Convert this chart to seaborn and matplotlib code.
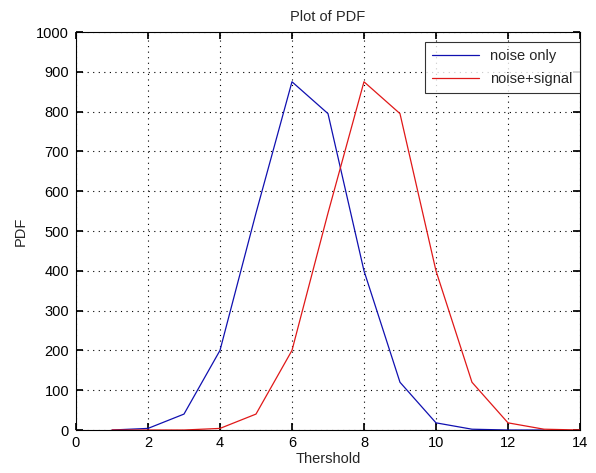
import matplotlib
matplotlib.use("Agg")
import matplotlib.pyplot as plt
import seaborn as sns
import pandas as pd

sns.set_theme(style="white")
plt.rcParams['font.family'] = ['Liberation Sans', 'DejaVu Sans']

# Data
x_noise = [1, 2, 3, 4, 5, 6, 7, 8, 9, 10, 11, 12, 13]
pdf_noise = [0, 4, 40, 200, 545, 875, 795, 400, 120, 18, 2, 0, 0]
x_signal = [1, 2, 3, 4, 5, 6, 7, 8, 9, 10, 11, 12, 13, 14]
pdf_signal = [0, 0, 0, 4, 40, 200, 545, 875, 795, 400, 120, 18, 2, 0]
x_ticks = [0, 2, 4, 6, 8, 10, 12, 14]
y_ticks = [0, 100, 200, 300, 400, 500, 600, 700, 800, 900, 1000]

df = pd.concat([
    pd.DataFrame({'Thershold': x_noise, 'PDF': pdf_noise, 'series': 'noise only'}),
    pd.DataFrame({'Thershold': x_signal, 'PDF': pdf_signal, 'series': 'noise+signal'}),
])

fig = plt.figure(figsize=(5.96, 4.73), dpi=100)
ax = fig.add_axes([0.1275, 0.0909, 0.8456, 0.8414])
sns.lineplot(data=df, x='Thershold', y='PDF', hue='series',
             palette={'noise only': '#1010b0', 'noise+signal': '#e01818'},
             linewidth=0.9, ax=ax)

ax.set_xlim(0, 14)
ax.set_ylim(0, 1000)
ax.set_xticks(x_ticks)
ax.set_yticks(y_ticks)
ax.grid(True, linestyle=(0, (1, 4)), color='black', linewidth=0.8)
ax.tick_params(direction='in', length=5, labelsize=10.5, colors='black',
               top=True, right=True, bottom=True, left=True, pad=5)
ax.tick_params(axis='x', pad=4)
for s in ax.spines.values():
    s.set_color('black')
    s.set_linewidth(0.8)
ax.set_xlabel('Thershold', fontsize=10.5, labelpad=2)
ax.set_ylabel('PDF', fontsize=10.5, labelpad=6)
ax.set_title('Plot of PDF', fontsize=10.5, pad=8)

leg = ax.legend(loc='upper right', bbox_to_anchor=(580 / 596, 1 - 42 / 473),
                bbox_transform=fig.transFigure, fontsize=10.5, frameon=True,
                fancybox=False, edgecolor='black', borderaxespad=0,
                handlelength=3.2, labelspacing=0.6, borderpad=0.5)
leg.get_frame().set_linewidth(0.8)

fig.savefig('out.png', dpi=100)
